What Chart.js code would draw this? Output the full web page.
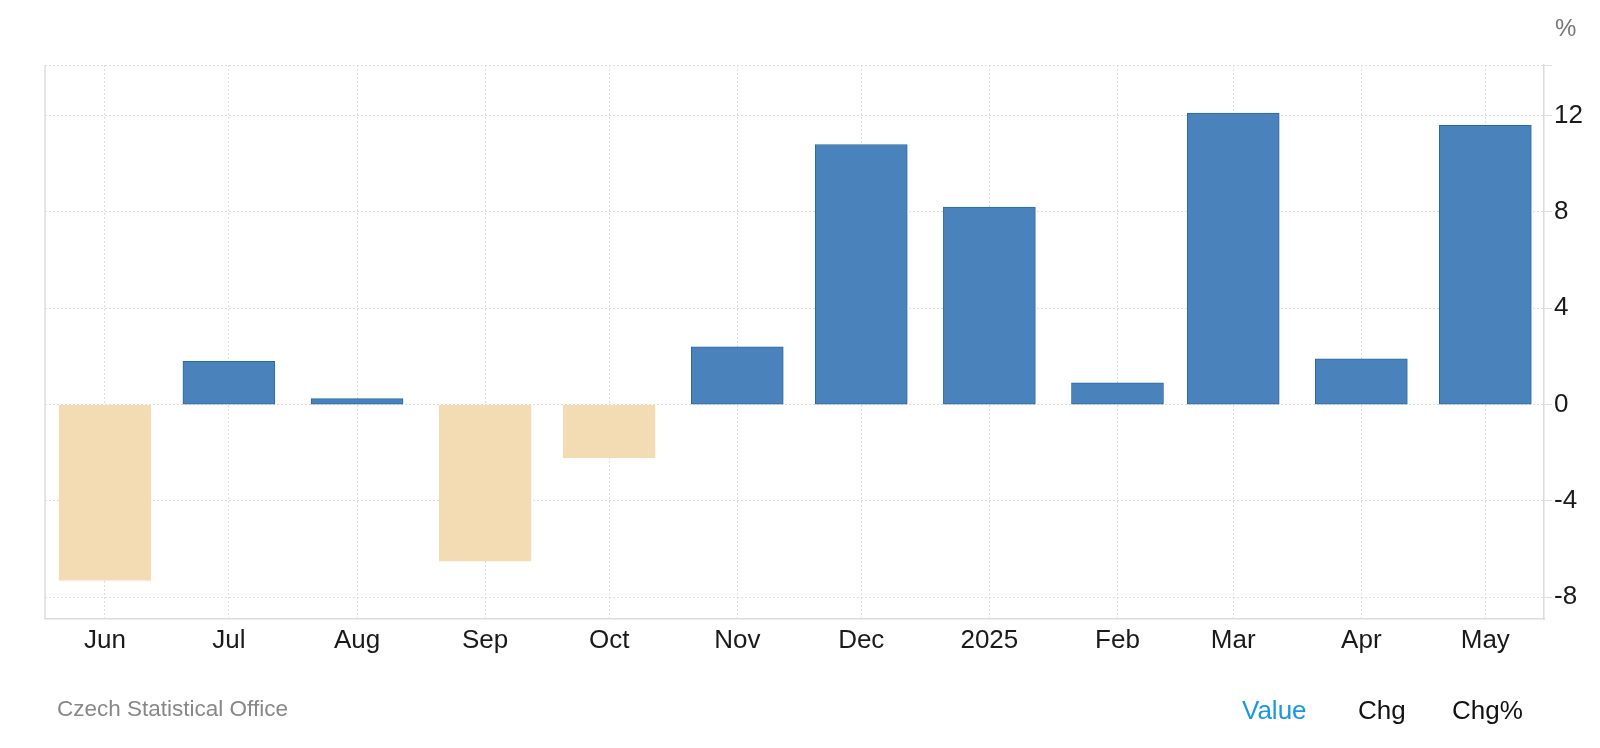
<!DOCTYPE html>
<html>
<head>
<meta charset="utf-8">
<script src="https://cdn.jsdelivr.net/npm/chart.js@4.4.1/dist/chart.umd.min.js"></script>
<style>
  html, body { margin: 0; padding: 0; background: #fff; }
  body { width: 1600px; height: 748px; position: relative; overflow: hidden;
         font-family: "Liberation Sans", Arial, Helvetica, sans-serif; }
  #wrap { position: absolute; left: 0; top: 0; width: 1600px; height: 748px; }
  .txt { position: absolute; white-space: nowrap; line-height: 1; }
  #unit { left: 1555px; top: 16px; font-size: 24px; color: #777; }
  #source { left: 57px; top: 698px; font-size: 22.5px; color: #888; }
  .tab { top: 697px; font-size: 26px; color: #111; }
  #tabValue { left: 1242px; color: #1a96e6; }
  #tabChg { left: 1358px; }
  #tabChgPct { left: 1452px; }
</style>
</head>
<body>
<div id="wrap"><canvas id="barChart" width="1600" height="748"></canvas></div>
<div class="txt" id="unit">%</div>
<div class="txt" id="source">Czech Statistical Office</div>
<div class="txt tab" id="tabValue">Value</div>
<div class="txt tab" id="tabChg">Chg</div>
<div class="txt tab" id="tabChgPct">Chg%</div>
<script>
var dates = ['2024-06-01', '2024-07-01', '2024-08-01', '2024-09-01', '2024-10-01', '2024-11-01',
             '2024-12-01', '2025-01-01', '2025-02-01', '2025-03-01', '2025-04-01', '2025-05-01'];
var months = ['Jun', 'Jul', 'Aug', 'Sep', 'Oct', 'Nov', 'Dec', '2025', 'Feb', 'Mar', 'Apr', 'May'];
var values = [-7.3, 1.8, 0.25, -6.5, -2.2, 2.4, 10.8, 8.2, 0.9, 12.1, 1.9, 11.6];
var yTicks = [-8, -4, 0, 4, 8, 12];
var yMin = -8.9;
var yMax = 14.1;

var posColor = '#4a83bb';
var posBorder = '#2a68a4';
var negColor = '#f3dbb3';

// time axis without an adapter: days since the first date
var DAY = 86400000;
var t0 = Date.parse(dates[0]);
var days = dates.map(function (d) { return (Date.parse(d) - t0) / DAY; });
var points = days.map(function (d, i) { return { x: d, y: values[i] }; });

var fillColors = values.map(function (v) { return v < 0 ? negColor : posColor; });
var edgeColors = values.map(function (v) { return v < 0 ? negColor : posBorder; });

// solid line on the left edge of the plot
var leftEdge = {
  id: 'leftEdge',
  afterDraw: function (chart) {
    var a = chart.chartArea;
    var ctx = chart.ctx;
    ctx.save();
    ctx.strokeStyle = '#dcdcdc';
    ctx.lineWidth = 1.5;
    ctx.beginPath();
    ctx.moveTo(a.left, a.top);
    ctx.lineTo(a.left, a.bottom);
    ctx.stroke();
    ctx.restore();
  }
};

var ctx = document.getElementById('barChart');
var myBarChart = new Chart(ctx, {
  type: 'bar',
  data: {
    datasets: [{
      label: 'Value',
      data: points,
      backgroundColor: fillColors,
      borderColor: edgeColors,
      borderWidth: 1,
      borderSkipped: false,
      barThickness: 92
    }]
  },
  options: {
    responsive: false,
    animation: false,
    layout: { padding: { left: 45, top: 65, right: 0, bottom: 0 } },
    plugins: {
      legend: { display: false },
      tooltip: { enabled: false }
    },
    scales: {
      x: {
        type: 'linear',
        offset: false,
        min: -14.5,
        max: days[days.length - 1] + 14.2,
        afterBuildTicks: function (scale) {
          scale.ticks = days.map(function (d) { return { value: d }; });
        },
        grid: {
          offset: false,
          color: '#dedede',
          drawTicks: false
        },
        border: { display: true, color: '#dcdcdc', width: 1.5, dash: [2, 2] },
        ticks: {
          color: '#1a1a1a',
          padding: 6,
          maxRotation: 0,
          autoSkip: false,
          font: { family: '"Liberation Sans", Arial, sans-serif', size: 26 },
          callback: function (v, i) { return months[i]; }
        },
        afterFit: function (scale) { scale.height = 129; }
      },
      y: {
        position: 'right',
        min: yMin,
        max: yMax,
        afterBuildTicks: function (scale) {
          scale.ticks = yTicks.concat([yMax]).map(function (v) { return { value: v }; });
        },
        grid: {
          color: '#dedede',
          tickColor: '#dedede',
          tickLength: 8
        },
        border: { display: true, color: '#dcdcdc', width: 1.5, dash: [2, 2] },
        ticks: {
          color: '#1a1a1a',
          padding: 2,
          font: { family: '"Liberation Sans", Arial, sans-serif', size: 26 },
          callback: function (v) { return yTicks.indexOf(v) >= 0 ? String(v) : ''; }
        },
        afterFit: function (scale) { scale.width = 56; }
      }
    }
  },
  plugins: [leftEdge]
});
</script>
</body>
</html>
